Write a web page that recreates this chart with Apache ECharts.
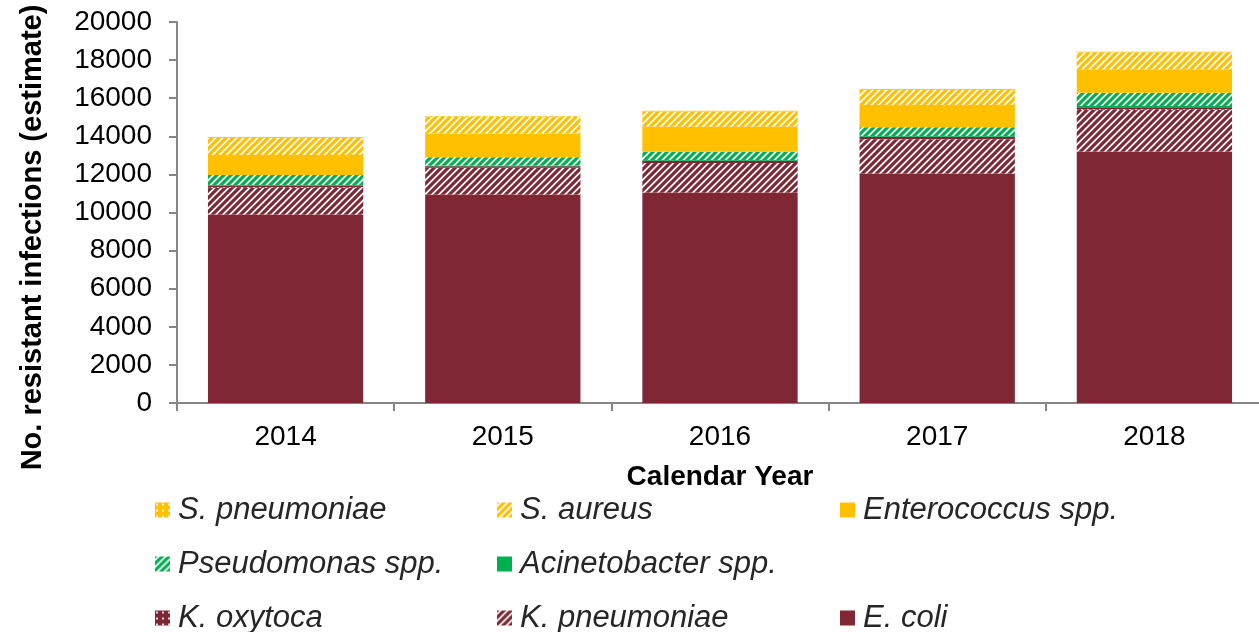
<!DOCTYPE html>
<html>
<head>
<meta charset="utf-8">
<script src="https://cdn.jsdelivr.net/npm/echarts@6/dist/echarts.min.js"></script>
<style>
  html, body { margin: 0; padding: 0; background: #fff; }
  #chart { width: 1259px; height: 632px; }
</style>
</head>
<body>
<div id="chart"></div>
<script>
  const years = ['2014', '2015', '2016', '2017', '2018'];
  const eColi = [9900, 10950, 11050, 12050, 13200];
  const kPneumoniae = [1400, 1400, 1550, 1800, 2200];
  const kOxytoca = [100, 80, 120, 120, 130];
  const acinetobacter = [50, 40, 40, 50, 60];
  const pseudomonas = [520, 430, 430, 450, 700];
  const enterococcus = [1050, 1250, 1310, 1170, 1230];
  const sAureus = [900, 880, 800, 800, 880];
  const sPneumoniae = [40, 40, 40, 40, 40];

  const RED = '#7f2734';
  const YELLOW = '#ffc000';
  const GREEN = '#00b050';
  const AXIS = '#868686';
  const FONT = 'Liberation Sans, Arial, sans-serif';

  // diagonal hatch: coloured "/" stripes on white
  function hatch(color) {
    const s = 7;
    const c = document.createElement('canvas');
    c.width = s; c.height = s;
    const ctx = c.getContext('2d');
    ctx.fillStyle = '#fff';
    ctx.fillRect(0, 0, s, s);
    ctx.strokeStyle = color;
    ctx.lineWidth = 3.2;
    ctx.beginPath();
    ctx.moveTo(0, s); ctx.lineTo(s, 0);
    ctx.moveTo(-s / 2, s / 2); ctx.lineTo(s / 2, -s / 2);
    ctx.moveTo(s / 2, s * 1.5); ctx.lineTo(s * 1.5, s / 2);
    ctx.stroke();
    return { image: c, repeat: 'repeat' };
  }

  // small dotted fill
  function dots(color) {
    const s = 6;
    const c = document.createElement('canvas');
    c.width = s; c.height = s;
    const ctx = c.getContext('2d');
    ctx.fillStyle = color;
    ctx.fillRect(0, 0, s, s);
    ctx.fillStyle = 'rgba(255,255,255,0.8)';
    ctx.fillRect(1, 1, 2, 2);
    return { image: c, repeat: 'repeat' };
  }

  const chart = echarts.init(document.getElementById('chart'));

  const bar = (name, data, color) => ({
    name: name,
    type: 'bar',
    stack: 'total',
    data: data,
    barCategoryGap: '28.5%',
    itemStyle: { color: color },
    emphasis: { disabled: true }
  });

  // one legend per entry so the 3x3 grid (with its empty cell) lines up
  const legendItem = (name, left, top) => ({
    data: [name],
    left: left,
    top: top,
    itemWidth: 15,
    itemHeight: 15,
    icon: 'rect',
    selectedMode: false,
    padding: 0,
    textStyle: {
      fontFamily: FONT,
      fontStyle: 'italic',
      fontSize: 31,
      color: '#262626',
      lineHeight: 34,
      padding: [0, 0, 0, 3]
    }
  });

  const titleStyle = { fontFamily: FONT, fontWeight: 'bold', fontSize: 28, color: '#000' };
  const labelStyle = { fontFamily: FONT, fontSize: 28, color: '#000' };

  const option = {
    animation: false,
    backgroundColor: '#fff',
    grid: { left: 177, right: -4, top: 22, bottom: 229, containLabel: false, outerBoundsMode: 'none' },
    legend: [
      legendItem('S. pneumoniae', 155, 493),
      legendItem('S. aureus', 497, 493),
      legendItem('Enterococcus spp.', 840, 493),
      legendItem('Pseudomonas spp.', 155, 547),
      legendItem('Acinetobacter spp.', 497, 547),
      legendItem('K. oxytoca', 155, 601),
      legendItem('K. pneumoniae', 497, 601),
      legendItem('E. coli', 840, 601)
    ],
    xAxis: {
      type: 'category',
      data: years,
      name: 'Calendar Year',
      nameLocation: 'middle',
      nameGap: 60,
      nameTextStyle: titleStyle,
      axisLine: { lineStyle: { color: AXIS, width: 2 } },
      axisTick: { show: true, length: 8, lineStyle: { color: AXIS, width: 2 } },
      axisLabel: Object.assign({ margin: 20 }, labelStyle)
    },
    yAxis: {
      type: 'value',
      min: 0,
      max: 20000,
      interval: 2000,
      name: 'No. resistant infections (estimate)',
      nameLocation: 'middle',
      nameGap: 130,
      nameTextStyle: Object.assign({}, titleStyle, { fontSize: 29, padding: [0, 50, 0, 0] }),
      axisLine: { show: true, lineStyle: { color: AXIS, width: 2 } },
      axisTick: { show: true, length: 8, lineStyle: { color: AXIS, width: 2 } },
      splitLine: { show: false },
      axisLabel: Object.assign({ margin: 25, formatter: v => String(v) }, labelStyle)
    },
    series: [
      bar('E. coli', eColi, RED),
      bar('K. pneumoniae', kPneumoniae, hatch(RED)),
      bar('K. oxytoca', kOxytoca, dots(RED)),
      bar('Acinetobacter spp.', acinetobacter, GREEN),
      bar('Pseudomonas spp.', pseudomonas, hatch(GREEN)),
      bar('Enterococcus spp.', enterococcus, YELLOW),
      bar('S. aureus', sAureus, hatch(YELLOW)),
      bar('S. pneumoniae', sPneumoniae, dots(YELLOW))
    ]
  };

  chart.setOption(option);
  window.onresize = function () {
    chart.resize();
  };
</script>
</body>
</html>
